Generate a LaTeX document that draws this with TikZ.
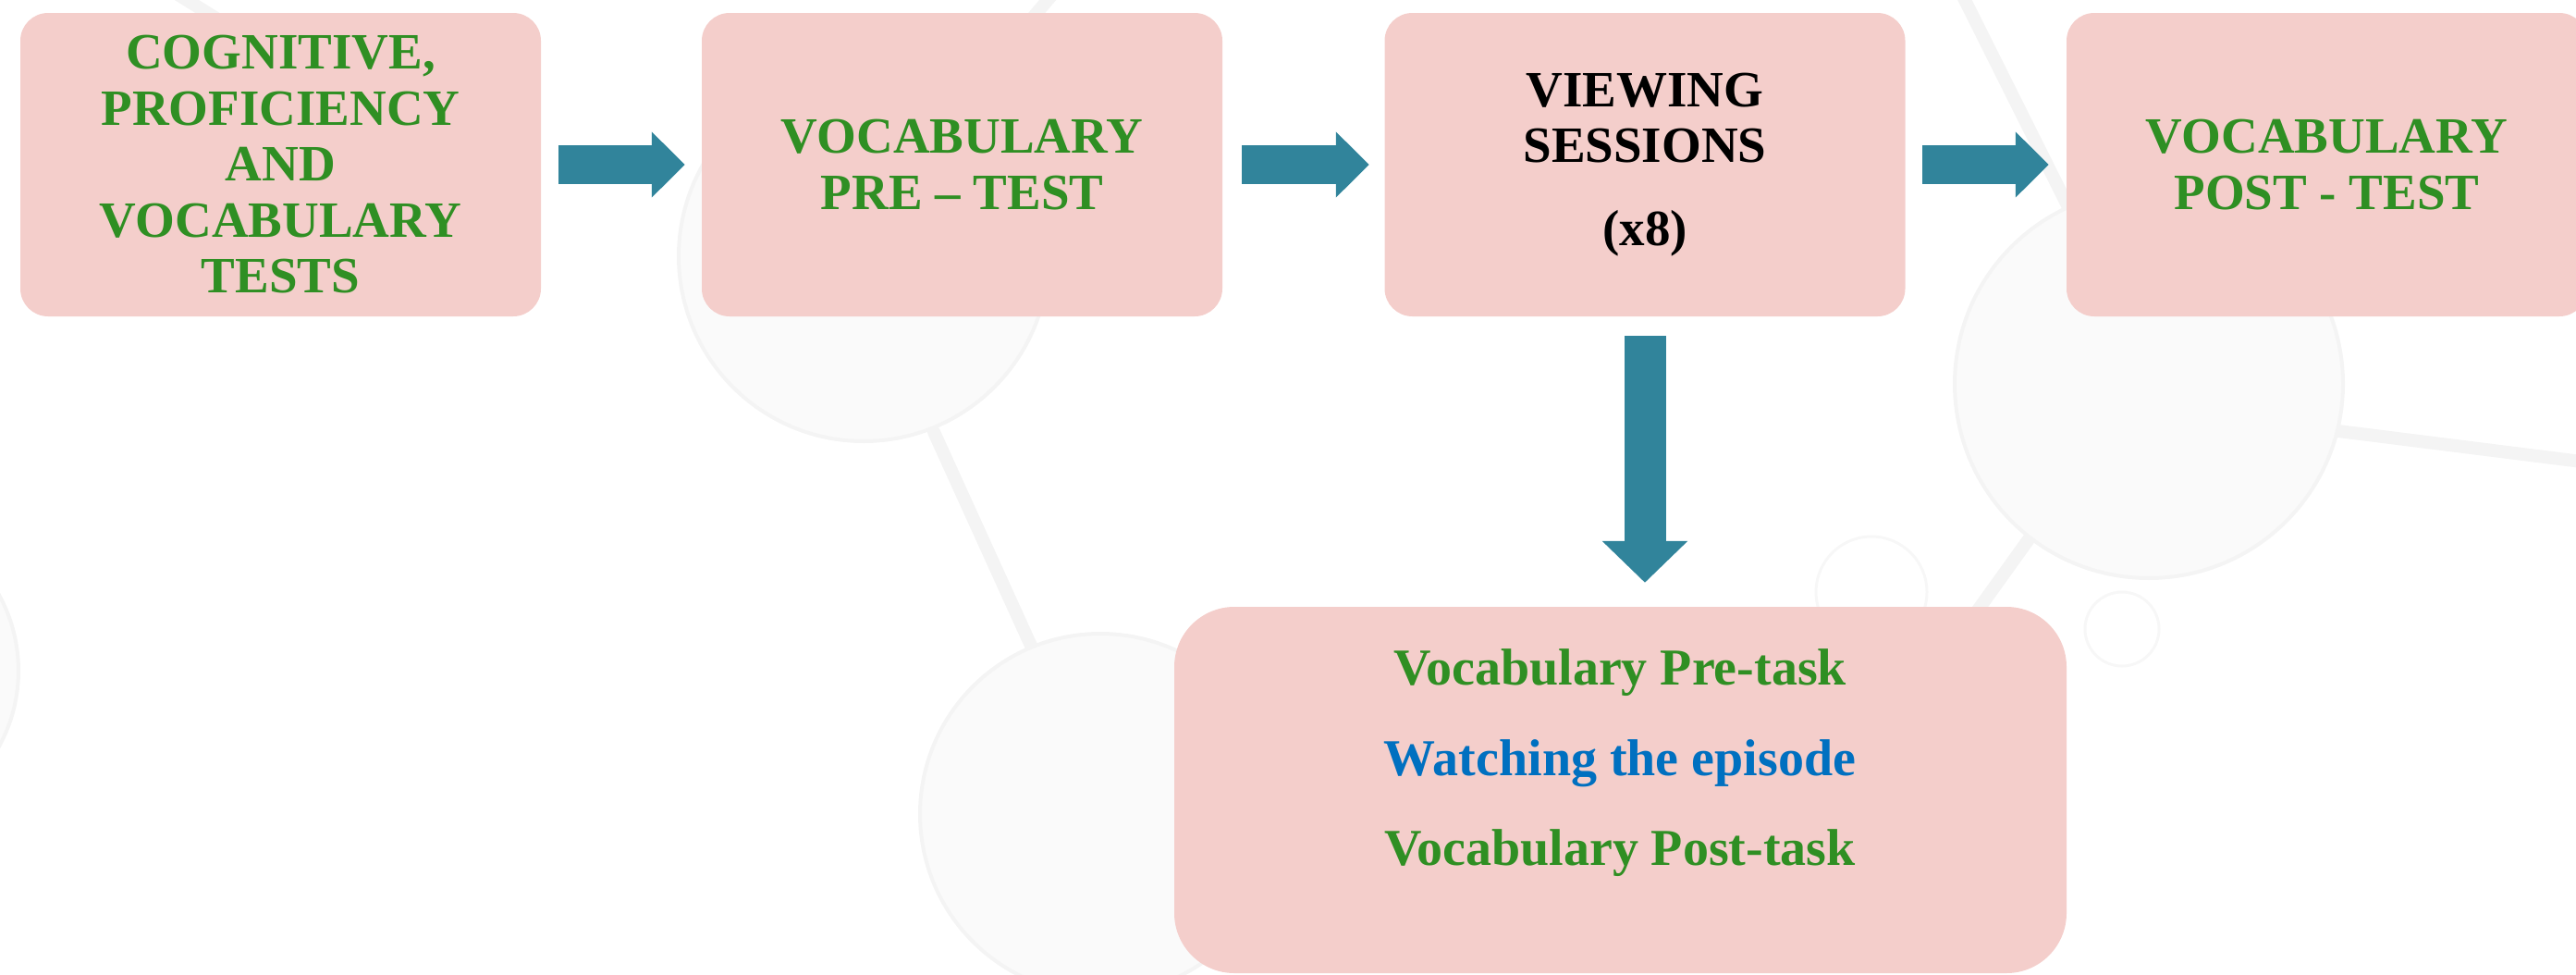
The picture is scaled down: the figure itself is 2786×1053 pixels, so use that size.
\documentclass[tikz,border=0pt]{standalone}
\usepackage{fontspec}
\setmainfont{Liberation Serif}
\usetikzlibrary{arrows.meta,calc}

\definecolor{boxpink}{HTML}{F4CECB}
\definecolor{labelgreen}{HTML}{2F8F23}
\definecolor{labelblue}{HTML}{0070C0}
\definecolor{flowteal}{HTML}{31849B}
\definecolor{hazeline}{HTML}{F4F4F4}
\definecolor{hazefill}{HTML}{FAFAFA}

\begin{document}
\begin{tikzpicture}[x=1pt,y=-1pt,
  stage/.style={fill=boxpink, rounded corners=30pt, minimum width=563pt,
    minimum height=328pt, inner sep=0pt, align=center,
    font=\fontsize{55}{60.5}\selectfont\bfseries, text=labelgreen},
  taskbox/.style={fill=boxpink, rounded corners=65pt, minimum width=965pt,
    minimum height=396pt, inner sep=0pt},
  taskline/.style={anchor=base, inner sep=0pt,
    font=\fontsize{56}{60}\selectfont\bfseries, text=labelgreen},
  flow/.style={draw=flowteal, line width=42pt,
    -{Triangle[length=36pt,width=69pt]}},
  flowdown/.style={draw=flowteal, line width=45pt,
    -{Triangle[length=45pt,width=90pt]}},
  bond/.style={draw=hazeline, line width=14pt, line cap=round},
  atom/.style={draw=hazeline, line width=4pt, fill=hazefill},
  ring/.style={draw=hazeline!70, line width=3pt}
]
\useasboundingbox (0,0) rectangle (2786,1053);

% faint molecule in the background
\begin{scope}
  \draw[bond] (1010,467) -- (1125,720);
  \draw[bond] (1040,110) -- (1150,-20);
  \draw[bond] (330,80) -- (170,-20);
  \draw[bond] (2521,465) -- (2800,500);
  \draw[bond] (2290,330) -- (2115,-20);
  \draw[bond] (2194,583) -- (2110,700);
  \draw[atom] (934,277) circle (200);
  \draw[atom] (1190,880) circle (195);
  \draw[atom] (2324,415) circle (210);
  \draw[atom] (-150,725) circle (170);
  \draw[ring] (2024,640) circle (60);
  \draw[ring] (2295,680) circle (40);
\end{scope}

% the four stages of the study
\node[stage] (b1) at (303.5,178) {COGNITIVE,\\PROFICIENCY\\AND\\VOCABULARY\\TESTS};
\node[stage] (b2) at (1040.5,178) {VOCABULARY\\PRE -- TEST};
\node[stage, text=black] (b3) at (1779,178) {VIEWING\\SESSIONS\\[29.5pt](x8)};
\node[stage] (b4) at (2516.5,178) {VOCABULARY\\POST - TEST};

% contents of each viewing session
\node[taskbox] (b5) at (1752.5,854) {};
\node[taskline] (t1) at (1752,740) {Vocabulary Pre-task};
\node[taskline, text=labelblue] (t2) at (1752,838) {Watching the episode};
\node[taskline] (t3) at (1752,935.5) {Vocabulary Post-task};

% block arrows between the stages
\draw[flow] ($(b1.east)+(19,0)$) -- ($(b2.west)+(-18,0)$);
\draw[flow] ($(b2.east)+(21,0)$) -- ($(b3.west)+(-16.5,0)$);
\draw[flow] ($(b3.east)+(18.5,0)$) -- ($(b4.west)+(-19,0)$);
\draw[flowdown] ($(b3.south)+(0,21)$) -- ($(b3.south |- b5.north)+(0,-26)$);
\end{tikzpicture}
\end{document}
